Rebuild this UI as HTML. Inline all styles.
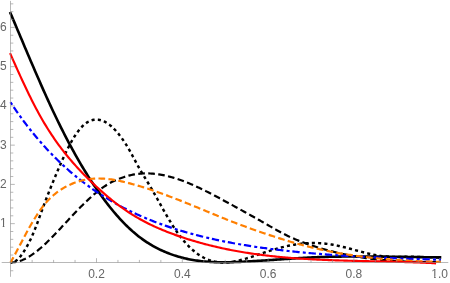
<!DOCTYPE html>
<html><head><meta charset="utf-8"><title>plot</title>
<style>
html,body{margin:0;padding:0;background:#fff;}
svg{display:block;}
text{font-family:"Liberation Sans",sans-serif;font-size:12px;fill:#666;}
</style></head><body>
<svg width="450" height="283" viewBox="0 0 450 283" style="will-change:transform">
<defs>
<clipPath id="cy1"><path d="M-8,-11 H1 V-1.7 H-2.35 V1 H-3.95 V-1.7 H-8 Z"/></clipPath>
<clipPath id="cx1"><path d="M-10,-11 H10 V3 H-1.4 V-1.7 H-4.0 V1 H-5.6 V-1.7 H-10 Z"/></clipPath>
</defs>
<rect width="450" height="283" fill="#fff"/>
<text transform="translate(96.50,277.6) scale(1,1.08)" text-anchor="middle">0.2</text>
<text transform="translate(182.30,277.6) scale(1,1.08)" text-anchor="middle">0.4</text>
<text transform="translate(268.10,277.6) scale(1,1.08)" text-anchor="middle">0.6</text>
<text transform="translate(353.90,277.6) scale(1,1.08)" text-anchor="middle">0.8</text>
<text transform="translate(439.70,277.6) scale(1,1.08)" text-anchor="middle" clip-path="url(#cx1)">1.0</text>
<text transform="translate(6.7,227.15) scale(1,1.08)" text-anchor="end" clip-path="url(#cy1)">1</text>
<text transform="translate(6.7,187.90) scale(1,1.08)" text-anchor="end">2</text>
<text transform="translate(6.7,148.65) scale(1,1.08)" text-anchor="end">3</text>
<text transform="translate(6.7,109.40) scale(1,1.08)" text-anchor="end">4</text>
<text transform="translate(6.7,70.15) scale(1,1.08)" text-anchor="end">5</text>
<text transform="translate(6.7,30.90) scale(1,1.08)" text-anchor="end">6</text>
<path d="M10.50,13.24 L11.94,16.62 L13.37,20.00 L14.81,23.38 L16.25,26.78 L17.68,30.17 L19.12,33.57 L20.56,36.96 L21.99,40.36 L23.43,43.76 L24.86,47.15 L26.30,50.53 L27.74,53.92 L29.17,57.29 L30.61,60.66 L32.05,64.01 L33.48,67.36 L34.92,70.69 L36.36,74.01 L37.79,77.31 L39.23,80.60 L40.67,83.87 L42.10,87.12 L43.54,90.35 L44.97,93.55 L46.41,96.74 L47.85,99.90 L49.28,103.03 L50.72,106.14 L52.16,109.22 L53.59,112.27 L55.03,115.29 L56.47,118.28 L57.90,121.23 L59.34,124.16 L60.78,127.06 L62.21,129.92 L63.65,132.75 L65.09,135.55 L66.52,138.33 L67.96,141.06 L69.39,143.77 L70.83,146.45 L72.27,149.09 L73.70,151.71 L75.14,154.29 L76.58,156.84 L78.01,159.36 L79.45,161.85 L80.89,164.30 L82.32,166.72 L83.76,169.12 L85.20,171.47 L86.63,173.80 L88.07,176.10 L89.51,178.36 L90.94,180.59 L92.38,182.79 L93.81,184.95 L95.25,187.09 L96.69,189.19 L98.12,191.26 L99.56,193.30 L101.00,195.31 L102.43,197.28 L103.87,199.23 L105.31,201.14 L106.74,203.02 L108.18,204.87 L109.62,206.69 L111.05,208.48 L112.49,210.23 L113.92,211.96 L115.36,213.65 L116.80,215.31 L118.23,216.94 L119.67,218.54 L121.11,220.10 L122.54,221.63 L123.98,223.12 L125.42,224.58 L126.85,226.00 L128.29,227.39 L129.73,228.75 L131.16,230.07 L132.60,231.35 L134.04,232.60 L135.47,233.81 L136.91,234.99 L138.34,236.14 L139.78,237.25 L141.22,238.32 L142.65,239.37 L144.09,240.38 L145.53,241.36 L146.96,242.30 L148.40,243.22 L149.84,244.11 L151.27,244.97 L152.71,245.80 L154.15,246.60 L155.58,247.38 L157.02,248.13 L158.45,248.86 L159.89,249.56 L161.33,250.24 L162.76,250.90 L164.20,251.54 L165.64,252.15 L167.07,252.74 L168.51,253.31 L169.95,253.86 L171.38,254.38 L172.82,254.89 L174.26,255.37 L175.69,255.84 L177.13,256.29 L178.57,256.71 L180.00,257.12 L181.44,257.51 L182.87,257.88 L184.31,258.23 L185.75,258.57 L187.18,258.89 L188.62,259.19 L190.06,259.47 L191.49,259.74 L192.93,259.99 L194.37,260.23 L195.80,260.45 L197.24,260.66 L198.68,260.85 L200.11,261.02 L201.55,261.19 L202.98,261.34 L204.42,261.48 L205.86,261.60 L207.29,261.71 L208.73,261.81 L210.17,261.90 L211.60,261.98 L213.04,262.05 L214.48,262.11 L215.91,262.16 L217.35,262.19 L218.79,262.22 L220.22,262.24 L221.66,262.26 L223.10,262.26 L224.53,262.26 L225.97,262.25 L227.40,262.23 L228.84,262.21 L230.28,262.18 L231.71,262.14 L233.15,262.10 L234.59,262.05 L236.02,262.00 L237.46,261.95 L238.90,261.89 L240.33,261.83 L241.77,261.77 L243.21,261.70 L244.64,261.63 L246.08,261.56 L247.52,261.48 L248.95,261.41 L250.39,261.33 L251.82,261.25 L253.26,261.16 L254.70,261.08 L256.13,260.99 L257.57,260.90 L259.01,260.81 L260.44,260.72 L261.88,260.62 L263.32,260.53 L264.75,260.43 L266.19,260.34 L267.63,260.24 L269.06,260.14 L270.50,260.04 L271.93,259.94 L273.37,259.84 L274.81,259.74 L276.24,259.64 L277.68,259.54 L279.12,259.44 L280.55,259.34 L281.99,259.24 L283.43,259.14 L284.86,259.04 L286.30,258.94 L287.74,258.84 L289.17,258.75 L290.61,258.65 L292.05,258.55 L293.48,258.46 L294.92,258.37 L296.35,258.28 L297.79,258.19 L299.23,258.10 L300.66,258.02 L302.10,257.93 L303.54,257.85 L304.97,257.77 L306.41,257.70 L307.85,257.62 L309.28,257.55 L310.72,257.48 L312.16,257.41 L313.59,257.35 L315.03,257.29 L316.46,257.23 L317.90,257.17 L319.34,257.12 L320.77,257.07 L322.21,257.02 L323.65,256.97 L325.08,256.93 L326.52,256.89 L327.96,256.85 L329.39,256.81 L330.83,256.77 L332.27,256.74 L333.70,256.71 L335.14,256.68 L336.58,256.65 L338.01,256.63 L339.45,256.61 L340.88,256.59 L342.32,256.57 L343.76,256.55 L345.19,256.53 L346.63,256.52 L348.07,256.51 L349.50,256.50 L350.94,256.49 L352.38,256.48 L353.81,256.47 L355.25,256.47 L356.69,256.46 L358.12,256.46 L359.56,256.46 L360.99,256.46 L362.43,256.47 L363.87,256.47 L365.30,256.47 L366.74,256.48 L368.18,256.49 L369.61,256.49 L371.05,256.50 L372.49,256.51 L373.92,256.52 L375.36,256.54 L376.80,256.55 L378.23,256.56 L379.67,256.58 L381.11,256.59 L382.54,256.61 L383.98,256.62 L385.41,256.64 L386.85,256.66 L388.29,256.67 L389.72,256.69 L391.16,256.71 L392.60,256.73 L394.03,256.75 L395.47,256.77 L396.91,256.79 L398.34,256.81 L399.78,256.83 L401.22,256.85 L402.65,256.88 L404.09,256.90 L405.53,256.92 L406.96,256.94 L408.40,256.96 L409.83,256.98 L411.27,257.00 L412.71,257.02 L414.14,257.04 L415.58,257.07 L417.02,257.09 L418.45,257.11 L419.89,257.12 L421.33,257.14 L422.76,257.16 L424.20,257.18 L425.64,257.20 L427.07,257.22 L428.51,257.23 L429.94,257.25 L431.38,257.26 L432.82,257.28 L434.25,257.29 L435.69,257.30 L437.13,257.32 L438.56,257.33 L440.00,257.34" fill="none" stroke="#000" stroke-width="2.6" stroke-linecap="square"/>
<path d="M10.50,262.38 L11.94,262.44 L13.38,262.16 L14.82,261.55 L16.26,260.62 L17.70,259.42 L19.14,257.94 L20.58,256.23 L22.02,254.29 L23.46,252.15 L24.90,249.85 L26.34,247.41 L27.78,244.83 L29.22,242.10 L30.66,239.19 L32.10,236.06 L33.54,232.70 L34.98,229.14 L36.42,225.42 L37.86,221.59 L39.30,217.67 L40.74,213.72 L42.18,209.76 L43.62,205.84 L45.06,201.99 L46.49,198.23 L47.93,194.55 L49.37,190.92 L50.81,187.33 L52.25,183.78 L53.69,180.25 L55.13,176.76 L56.57,173.30 L58.01,169.89 L59.45,166.54 L60.89,163.24 L62.33,160.01 L63.77,156.86 L65.21,153.80 L66.65,150.82 L68.09,147.94 L69.53,145.17 L70.97,142.51 L72.41,139.97 L73.85,137.56 L75.29,135.28 L76.73,133.14 L78.17,131.16 L79.61,129.33 L81.05,127.66 L82.49,126.16 L83.93,124.82 L85.37,123.64 L86.81,122.61 L88.25,121.74 L89.69,121.02 L91.13,120.45 L92.57,120.02 L94.01,119.73 L95.45,119.58 L96.89,119.56 L98.33,119.68 L99.77,119.93 L101.21,120.31 L102.65,120.81 L104.09,121.44 L105.53,122.18 L106.97,123.04 L108.41,124.02 L109.85,125.10 L111.29,126.29 L112.73,127.59 L114.17,129.00 L115.61,130.51 L117.05,132.13 L118.48,133.84 L119.92,135.66 L121.36,137.59 L122.80,139.61 L124.24,141.73 L125.68,143.96 L127.12,146.28 L128.56,148.69 L130.00,151.21 L131.44,153.81 L132.88,156.48 L134.32,159.19 L135.76,161.89 L137.20,164.58 L138.64,167.20 L140.08,169.75 L141.52,172.21 L142.96,174.61 L144.40,176.98 L145.84,179.32 L147.28,181.65 L148.72,184.01 L150.16,186.40 L151.60,188.85 L153.04,191.33 L154.48,193.86 L155.92,196.41 L157.36,198.99 L158.80,201.57 L160.24,204.17 L161.68,206.75 L163.12,209.33 L164.56,211.88 L166.00,214.41 L167.44,216.90 L168.88,219.35 L170.32,221.74 L171.76,224.07 L173.20,226.34 L174.64,228.53 L176.08,230.65 L177.52,232.71 L178.96,234.69 L180.40,236.60 L181.84,238.44 L183.28,240.20 L184.72,241.90 L186.16,243.52 L187.60,245.07 L189.04,246.55 L190.47,247.96 L191.91,249.29 L193.35,250.56 L194.79,251.75 L196.23,252.87 L197.67,253.93 L199.11,254.92 L200.55,255.84 L201.99,256.70 L203.43,257.49 L204.87,258.22 L206.31,258.89 L207.75,259.49 L209.19,260.04 L210.63,260.52 L212.07,260.95 L213.51,261.32 L214.95,261.63 L216.39,261.90 L217.83,262.11 L219.27,262.27 L220.71,262.39 L222.15,262.46 L223.59,262.48 L225.03,262.47 L226.47,262.41 L227.91,262.32 L229.35,262.19 L230.79,262.02 L232.23,261.82 L233.67,261.59 L235.11,261.33 L236.55,261.04 L237.99,260.73 L239.43,260.39 L240.87,260.03 L242.31,259.65 L243.75,259.26 L245.19,258.84 L246.63,258.41 L248.07,257.97 L249.51,257.51 L250.95,257.05 L252.39,256.57 L253.83,256.09 L255.27,255.61 L256.71,255.12 L258.15,254.64 L259.59,254.15 L261.03,253.67 L262.46,253.19 L263.90,252.71 L265.34,252.24 L266.78,251.78 L268.22,251.32 L269.66,250.86 L271.10,250.42 L272.54,249.98 L273.98,249.55 L275.42,249.13 L276.86,248.72 L278.30,248.32 L279.74,247.93 L281.18,247.54 L282.62,247.18 L284.06,246.82 L285.50,246.47 L286.94,246.14 L288.38,245.82 L289.82,245.52 L291.26,245.23 L292.70,244.96 L294.14,244.70 L295.58,244.46 L297.02,244.24 L298.46,244.03 L299.90,243.84 L301.34,243.67 L302.78,243.52 L304.22,243.39 L305.66,243.27 L307.10,243.18 L308.54,243.10 L309.98,243.05 L311.42,243.01 L312.86,242.99 L314.30,242.99 L315.74,243.01 L317.18,243.05 L318.62,243.11 L320.06,243.19 L321.50,243.28 L322.94,243.40 L324.38,243.54 L325.82,243.69 L327.26,243.87 L328.70,244.06 L330.14,244.27 L331.58,244.51 L333.02,244.76 L334.45,245.03 L335.89,245.31 L337.33,245.61 L338.77,245.93 L340.21,246.26 L341.65,246.59 L343.09,246.94 L344.53,247.30 L345.97,247.67 L347.41,248.04 L348.85,248.42 L350.29,248.80 L351.73,249.19 L353.17,249.58 L354.61,249.97 L356.05,250.36 L357.49,250.75 L358.93,251.14 L360.37,251.52 L361.81,251.91 L363.25,252.28 L364.69,252.65 L366.13,253.01 L367.57,253.36 L369.01,253.70 L370.45,254.03 L371.89,254.35 L373.33,254.65 L374.77,254.94 L376.21,255.21 L377.65,255.47 L379.09,255.71 L380.53,255.92 L381.97,256.12 L383.41,256.30 L384.85,256.45 L386.29,256.58 L387.73,256.69 L389.17,256.77 L390.61,256.83 L392.05,256.88 L393.49,256.91 L394.93,256.92 L396.37,256.93 L397.81,256.92 L399.25,256.91 L400.69,256.89 L402.13,256.87 L403.57,256.84 L405.01,256.82 L406.44,256.80 L407.88,256.79 L409.32,256.78 L410.76,256.78 L412.20,256.79 L413.64,256.81 L415.08,256.84 L416.52,256.87 L417.96,256.91 L419.40,256.95 L420.84,257.00 L422.28,257.05 L423.72,257.10 L425.16,257.15 L426.60,257.19 L428.04,257.24 L429.48,257.28 L430.92,257.32 L432.36,257.35 L433.80,257.38 L435.24,257.40 L436.68,257.41 L438.12,257.41 L439.56,257.40 L441.00,257.38" fill="none" stroke="#000" stroke-width="2.45" stroke-dasharray="3.1 3.18" stroke-dashoffset="1.55"/>
<path d="M10.50,262.31 L11.94,262.32 L13.38,262.24 L14.82,262.09 L16.26,261.85 L17.70,261.54 L19.14,261.15 L20.58,260.69 L22.02,260.16 L23.46,259.57 L24.90,258.91 L26.34,258.18 L27.78,257.40 L29.22,256.55 L30.66,255.65 L32.10,254.70 L33.54,253.69 L34.98,252.64 L36.42,251.54 L37.86,250.40 L39.30,249.21 L40.74,247.98 L42.18,246.72 L43.62,245.42 L45.06,244.08 L46.49,242.72 L47.93,241.33 L49.37,239.91 L50.81,238.47 L52.25,237.01 L53.69,235.52 L55.13,234.03 L56.57,232.51 L58.01,230.99 L59.45,229.45 L60.89,227.91 L62.33,226.36 L63.77,224.81 L65.21,223.26 L66.65,221.71 L68.09,220.17 L69.53,218.62 L70.97,217.09 L72.41,215.55 L73.85,214.03 L75.29,212.52 L76.73,211.02 L78.17,209.53 L79.61,208.06 L81.05,206.60 L82.49,205.16 L83.93,203.74 L85.37,202.34 L86.81,200.96 L88.25,199.61 L89.69,198.28 L91.13,196.98 L92.57,195.70 L94.01,194.45 L95.45,193.24 L96.89,192.05 L98.33,190.90 L99.77,189.79 L101.21,188.71 L102.65,187.67 L104.09,186.67 L105.53,185.71 L106.97,184.80 L108.41,183.93 L109.85,183.10 L111.29,182.32 L112.73,181.59 L114.17,180.89 L115.61,180.24 L117.05,179.62 L118.48,179.03 L119.92,178.47 L121.36,177.93 L122.80,177.43 L124.24,176.94 L125.68,176.49 L127.12,176.07 L128.56,175.67 L130.00,175.31 L131.44,174.98 L132.88,174.69 L134.32,174.42 L135.76,174.19 L137.20,173.99 L138.64,173.82 L140.08,173.68 L141.52,173.57 L142.96,173.49 L144.40,173.44 L145.84,173.41 L147.28,173.41 L148.72,173.44 L150.16,173.50 L151.60,173.58 L153.04,173.69 L154.48,173.83 L155.92,173.98 L157.36,174.17 L158.80,174.37 L160.24,174.60 L161.68,174.86 L163.12,175.13 L164.56,175.43 L166.00,175.75 L167.44,176.09 L168.88,176.45 L170.32,176.83 L171.76,177.23 L173.20,177.64 L174.64,178.08 L176.08,178.53 L177.52,179.01 L178.96,179.49 L180.40,180.00 L181.84,180.52 L183.28,181.06 L184.72,181.61 L186.16,182.18 L187.60,182.76 L189.04,183.35 L190.47,183.96 L191.91,184.58 L193.35,185.21 L194.79,185.85 L196.23,186.51 L197.67,187.17 L199.11,187.85 L200.55,188.53 L201.99,189.22 L203.43,189.93 L204.87,190.64 L206.31,191.36 L207.75,192.08 L209.19,192.82 L210.63,193.55 L212.07,194.30 L213.51,195.05 L214.95,195.80 L216.39,196.56 L217.83,197.32 L219.27,198.09 L220.71,198.86 L222.15,199.63 L223.59,200.41 L225.03,201.18 L226.47,201.96 L227.91,202.74 L229.35,203.52 L230.79,204.31 L232.23,205.10 L233.67,205.89 L235.11,206.68 L236.55,207.47 L237.99,208.26 L239.43,209.06 L240.87,209.85 L242.31,210.65 L243.75,211.45 L245.19,212.25 L246.63,213.05 L248.07,213.85 L249.51,214.65 L250.95,215.45 L252.39,216.26 L253.83,217.06 L255.27,217.87 L256.71,218.67 L258.15,219.49 L259.59,220.30 L261.03,221.11 L262.46,221.93 L263.90,222.75 L265.34,223.58 L266.78,224.41 L268.22,225.25 L269.66,226.08 L271.10,226.91 L272.54,227.75 L273.98,228.57 L275.42,229.39 L276.86,230.20 L278.30,231.00 L279.74,231.79 L281.18,232.56 L282.62,233.32 L284.06,234.06 L285.50,234.79 L286.94,235.50 L288.38,236.19 L289.82,236.87 L291.26,237.53 L292.70,238.17 L294.14,238.80 L295.58,239.42 L297.02,240.02 L298.46,240.61 L299.90,241.18 L301.34,241.74 L302.78,242.29 L304.22,242.83 L305.66,243.36 L307.10,243.88 L308.54,244.38 L309.98,244.88 L311.42,245.37 L312.86,245.85 L314.30,246.32 L315.74,246.78 L317.18,247.24 L318.62,247.68 L320.06,248.12 L321.50,248.55 L322.94,248.97 L324.38,249.38 L325.82,249.79 L327.26,250.18 L328.70,250.57 L330.14,250.95 L331.58,251.33 L333.02,251.69 L334.45,252.05 L335.89,252.40 L337.33,252.74 L338.77,253.07 L340.21,253.40 L341.65,253.72 L343.09,254.03 L344.53,254.34 L345.97,254.63 L347.41,254.93 L348.85,255.21 L350.29,255.49 L351.73,255.76 L353.17,256.02 L354.61,256.27 L356.05,256.52 L357.49,256.77 L358.93,257.00 L360.37,257.23 L361.81,257.46 L363.25,257.68 L364.69,257.89 L366.13,258.09 L367.57,258.29 L369.01,258.48 L370.45,258.67 L371.89,258.85 L373.33,259.03 L374.77,259.19 L376.21,259.36 L377.65,259.52 L379.09,259.67 L380.53,259.81 L381.97,259.96 L383.41,260.09 L384.85,260.22 L386.29,260.35 L387.73,260.47 L389.17,260.58 L390.61,260.69 L392.05,260.80 L393.49,260.90 L394.93,261.00 L396.37,261.09 L397.81,261.17 L399.25,261.25 L400.69,261.33 L402.13,261.40 L403.57,261.47 L405.01,261.54 L406.44,261.60 L407.88,261.65 L409.32,261.70 L410.76,261.75 L412.20,261.79 L413.64,261.83 L415.08,261.87 L416.52,261.90 L417.96,261.93 L419.40,261.95 L420.84,261.97 L422.28,261.99 L423.72,262.01 L425.16,262.02 L426.60,262.02 L428.04,262.03 L429.48,262.03 L430.92,262.03 L432.36,262.02 L433.80,262.01 L435.24,262.00 L436.68,261.99 L438.12,261.97 L439.56,261.95 L441.00,261.93" fill="none" stroke="#000" stroke-width="2.2" stroke-dasharray="6.6 3.4" stroke-dashoffset="0.6"/>
<path d="M10.50,102.26 L11.94,104.44 L13.38,106.59 L14.82,108.71 L16.26,110.80 L17.70,112.86 L19.14,114.89 L20.58,116.90 L22.02,118.88 L23.46,120.83 L24.90,122.75 L26.34,124.65 L27.78,126.53 L29.22,128.37 L30.66,130.20 L32.10,131.99 L33.54,133.77 L34.98,135.52 L36.42,137.24 L37.86,138.94 L39.30,140.62 L40.74,142.28 L42.18,143.91 L43.62,145.53 L45.06,147.11 L46.49,148.68 L47.93,150.23 L49.37,151.75 L50.81,153.26 L52.25,154.74 L53.69,156.21 L55.13,157.65 L56.57,159.08 L58.01,160.48 L59.45,161.87 L60.89,163.23 L62.33,164.58 L63.77,165.91 L65.21,167.23 L66.65,168.52 L68.09,169.80 L69.53,171.06 L70.97,172.30 L72.41,173.52 L73.85,174.73 L75.29,175.93 L76.73,177.10 L78.17,178.26 L79.61,179.41 L81.05,180.53 L82.49,181.65 L83.93,182.75 L85.37,183.83 L86.81,184.90 L88.25,185.95 L89.69,186.99 L91.13,188.02 L92.57,189.03 L94.01,190.03 L95.45,191.01 L96.89,191.98 L98.33,192.94 L99.77,193.88 L101.21,194.82 L102.65,195.73 L104.09,196.64 L105.53,197.54 L106.97,198.42 L108.41,199.29 L109.85,200.15 L111.29,200.99 L112.73,201.83 L114.17,202.65 L115.61,203.46 L117.05,204.27 L118.48,205.06 L119.92,205.84 L121.36,206.61 L122.80,207.36 L124.24,208.11 L125.68,208.85 L127.12,209.58 L128.56,210.30 L130.00,211.01 L131.44,211.71 L132.88,212.39 L134.32,213.07 L135.76,213.75 L137.20,214.41 L138.64,215.06 L140.08,215.70 L141.52,216.34 L142.96,216.97 L144.40,217.58 L145.84,218.19 L147.28,218.79 L148.72,219.39 L150.16,219.97 L151.60,220.55 L153.04,221.12 L154.48,221.68 L155.92,222.23 L157.36,222.78 L158.80,223.32 L160.24,223.85 L161.68,224.37 L163.12,224.89 L164.56,225.40 L166.00,225.90 L167.44,226.40 L168.88,226.89 L170.32,227.37 L171.76,227.85 L173.20,228.32 L174.64,228.78 L176.08,229.24 L177.52,229.69 L178.96,230.14 L180.40,230.58 L181.84,231.01 L183.28,231.43 L184.72,231.86 L186.16,232.27 L187.60,232.68 L189.04,233.09 L190.47,233.48 L191.91,233.88 L193.35,234.27 L194.79,234.65 L196.23,235.03 L197.67,235.40 L199.11,235.76 L200.55,236.13 L201.99,236.48 L203.43,236.84 L204.87,237.18 L206.31,237.53 L207.75,237.87 L209.19,238.20 L210.63,238.53 L212.07,238.85 L213.51,239.17 L214.95,239.49 L216.39,239.80 L217.83,240.11 L219.27,240.41 L220.71,240.71 L222.15,241.01 L223.59,241.30 L225.03,241.58 L226.47,241.87 L227.91,242.15 L229.35,242.42 L230.79,242.69 L232.23,242.96 L233.67,243.23 L235.11,243.49 L236.55,243.74 L237.99,244.00 L239.43,244.25 L240.87,244.49 L242.31,244.74 L243.75,244.98 L245.19,245.21 L246.63,245.45 L248.07,245.68 L249.51,245.91 L250.95,246.13 L252.39,246.35 L253.83,246.57 L255.27,246.79 L256.71,247.00 L258.15,247.21 L259.59,247.41 L261.03,247.62 L262.46,247.82 L263.90,248.02 L265.34,248.21 L266.78,248.41 L268.22,248.60 L269.66,248.78 L271.10,248.97 L272.54,249.15 L273.98,249.33 L275.42,249.51 L276.86,249.68 L278.30,249.86 L279.74,250.03 L281.18,250.20 L282.62,250.36 L284.06,250.53 L285.50,250.69 L286.94,250.85 L288.38,251.00 L289.82,251.16 L291.26,251.31 L292.70,251.46 L294.14,251.61 L295.58,251.76 L297.02,251.90 L298.46,252.05 L299.90,252.19 L301.34,252.33 L302.78,252.46 L304.22,252.60 L305.66,252.73 L307.10,252.86 L308.54,252.99 L309.98,253.12 L311.42,253.25 L312.86,253.37 L314.30,253.49 L315.74,253.61 L317.18,253.73 L318.62,253.85 L320.06,253.97 L321.50,254.08 L322.94,254.20 L324.38,254.31 L325.82,254.42 L327.26,254.53 L328.70,254.63 L330.14,254.74 L331.58,254.84 L333.02,254.95 L334.45,255.05 L335.89,255.15 L337.33,255.25 L338.77,255.34 L340.21,255.44 L341.65,255.53 L343.09,255.63 L344.53,255.72 L345.97,255.81 L347.41,255.90 L348.85,255.99 L350.29,256.08 L351.73,256.16 L353.17,256.25 L354.61,256.33 L356.05,256.41 L357.49,256.49 L358.93,256.57 L360.37,256.65 L361.81,256.73 L363.25,256.81 L364.69,256.88 L366.13,256.96 L367.57,257.03 L369.01,257.11 L370.45,257.18 L371.89,257.25 L373.33,257.32 L374.77,257.39 L376.21,257.46 L377.65,257.52 L379.09,257.59 L380.53,257.66 L381.97,257.72 L383.41,257.78 L384.85,257.85 L386.29,257.91 L387.73,257.97 L389.17,258.03 L390.61,258.09 L392.05,258.15 L393.49,258.21 L394.93,258.26 L396.37,258.32 L397.81,258.37 L399.25,258.43 L400.69,258.48 L402.13,258.54 L403.57,258.59 L405.01,258.64 L406.44,258.69 L407.88,258.74 L409.32,258.79 L410.76,258.84 L412.20,258.89 L413.64,258.94 L415.08,258.98 L416.52,259.03 L417.96,259.08 L419.40,259.12 L420.84,259.17 L422.28,259.21 L423.72,259.25 L425.16,259.30 L426.60,259.34 L428.04,259.38 L429.48,259.42 L430.92,259.46 L432.36,259.50 L433.80,259.54 L435.24,259.58 L436.68,259.62 L438.12,259.66 L439.56,259.69 L441.00,259.73" fill="none" stroke="#00f" stroke-width="2.2" stroke-dasharray="3 2.8 7.3 3.2"/>
<path d="M10.50,262.62 L11.94,260.03 L13.38,257.40 L14.82,254.74 L16.26,252.04 L17.70,249.33 L19.14,246.60 L20.58,243.87 L22.02,241.14 L23.46,238.42 L24.90,235.72 L26.34,233.05 L27.78,230.42 L29.22,227.83 L30.66,225.29 L32.10,222.80 L33.54,220.39 L34.98,218.04 L36.42,215.76 L37.86,213.56 L39.30,211.44 L40.74,209.40 L42.18,207.44 L43.62,205.58 L45.06,203.81 L46.49,202.13 L47.93,200.54 L49.37,199.03 L50.81,197.61 L52.25,196.27 L53.69,195.00 L55.13,193.80 L56.57,192.66 L58.01,191.60 L59.45,190.59 L60.89,189.63 L62.33,188.73 L63.77,187.88 L65.21,187.07 L66.65,186.30 L68.09,185.58 L69.53,184.89 L70.97,184.24 L72.41,183.62 L73.85,183.04 L75.29,182.50 L76.73,182.00 L78.17,181.53 L79.61,181.10 L81.05,180.70 L82.49,180.34 L83.93,180.01 L85.37,179.72 L86.81,179.45 L88.25,179.23 L89.69,179.03 L91.13,178.87 L92.57,178.73 L94.01,178.63 L95.45,178.56 L96.89,178.51 L98.33,178.50 L99.77,178.51 L101.21,178.54 L102.65,178.61 L104.09,178.69 L105.53,178.80 L106.97,178.94 L108.41,179.09 L109.85,179.27 L111.29,179.46 L112.73,179.68 L114.17,179.91 L115.61,180.16 L117.05,180.43 L118.48,180.71 L119.92,181.01 L121.36,181.32 L122.80,181.64 L124.24,181.98 L125.68,182.33 L127.12,182.69 L128.56,183.06 L130.00,183.43 L131.44,183.82 L132.88,184.21 L134.32,184.61 L135.76,185.02 L137.20,185.44 L138.64,185.86 L140.08,186.29 L141.52,186.73 L142.96,187.17 L144.40,187.63 L145.84,188.08 L147.28,188.55 L148.72,189.02 L150.16,189.49 L151.60,189.97 L153.04,190.46 L154.48,190.95 L155.92,191.45 L157.36,191.96 L158.80,192.47 L160.24,192.98 L161.68,193.50 L163.12,194.02 L164.56,194.55 L166.00,195.08 L167.44,195.62 L168.88,196.16 L170.32,196.70 L171.76,197.25 L173.20,197.81 L174.64,198.36 L176.08,198.92 L177.52,199.48 L178.96,200.05 L180.40,200.62 L181.84,201.19 L183.28,201.76 L184.72,202.34 L186.16,202.91 L187.60,203.49 L189.04,204.08 L190.47,204.66 L191.91,205.25 L193.35,205.83 L194.79,206.42 L196.23,207.01 L197.67,207.60 L199.11,208.20 L200.55,208.79 L201.99,209.38 L203.43,209.98 L204.87,210.57 L206.31,211.17 L207.75,211.76 L209.19,212.36 L210.63,212.95 L212.07,213.55 L213.51,214.14 L214.95,214.73 L216.39,215.32 L217.83,215.91 L219.27,216.50 L220.71,217.09 L222.15,217.67 L223.59,218.26 L225.03,218.84 L226.47,219.42 L227.91,219.99 L229.35,220.56 L230.79,221.13 L232.23,221.70 L233.67,222.26 L235.11,222.81 L236.55,223.37 L237.99,223.92 L239.43,224.46 L240.87,225.00 L242.31,225.53 L243.75,226.06 L245.19,226.59 L246.63,227.12 L248.07,227.64 L249.51,228.15 L250.95,228.67 L252.39,229.18 L253.83,229.68 L255.27,230.19 L256.71,230.69 L258.15,231.19 L259.59,231.69 L261.03,232.19 L262.46,232.68 L263.90,233.17 L265.34,233.66 L266.78,234.15 L268.22,234.64 L269.66,235.12 L271.10,235.60 L272.54,236.08 L273.98,236.55 L275.42,237.02 L276.86,237.49 L278.30,237.95 L279.74,238.41 L281.18,238.87 L282.62,239.32 L284.06,239.77 L285.50,240.22 L286.94,240.66 L288.38,241.09 L289.82,241.52 L291.26,241.95 L292.70,242.37 L294.14,242.79 L295.58,243.20 L297.02,243.61 L298.46,244.01 L299.90,244.41 L301.34,244.80 L302.78,245.18 L304.22,245.56 L305.66,245.93 L307.10,246.30 L308.54,246.66 L309.98,247.02 L311.42,247.37 L312.86,247.72 L314.30,248.06 L315.74,248.39 L317.18,248.72 L318.62,249.05 L320.06,249.36 L321.50,249.68 L322.94,249.99 L324.38,250.29 L325.82,250.59 L327.26,250.89 L328.70,251.18 L330.14,251.46 L331.58,251.74 L333.02,252.01 L334.45,252.28 L335.89,252.55 L337.33,252.81 L338.77,253.07 L340.21,253.32 L341.65,253.56 L343.09,253.81 L344.53,254.04 L345.97,254.28 L347.41,254.51 L348.85,254.73 L350.29,254.95 L351.73,255.17 L353.17,255.38 L354.61,255.59 L356.05,255.79 L357.49,255.99 L358.93,256.18 L360.37,256.37 L361.81,256.56 L363.25,256.74 L364.69,256.92 L366.13,257.10 L367.57,257.27 L369.01,257.44 L370.45,257.60 L371.89,257.76 L373.33,257.92 L374.77,258.07 L376.21,258.22 L377.65,258.37 L379.09,258.51 L380.53,258.65 L381.97,258.78 L383.41,258.91 L384.85,259.04 L386.29,259.17 L387.73,259.29 L389.17,259.41 L390.61,259.52 L392.05,259.64 L393.49,259.75 L394.93,259.85 L396.37,259.96 L397.81,260.06 L399.25,260.15 L400.69,260.25 L402.13,260.34 L403.57,260.43 L405.01,260.51 L406.44,260.60 L407.88,260.68 L409.32,260.76 L410.76,260.83 L412.20,260.90 L413.64,260.97 L415.08,261.04 L416.52,261.11 L417.96,261.17 L419.40,261.23 L420.84,261.29 L422.28,261.34 L423.72,261.40 L425.16,261.45 L426.60,261.50 L428.04,261.54 L429.48,261.59 L430.92,261.63 L432.36,261.67 L433.80,261.71 L435.24,261.75 L436.68,261.78 L438.12,261.81 L439.56,261.84 L441.00,261.87" fill="none" stroke="#ff7f00" stroke-width="2.2" stroke-dasharray="6.7 3.3" stroke-dashoffset="0.6"/>
<path d="M10.50,54.15 L11.92,57.38 L13.34,60.60 L14.76,63.80 L16.18,66.98 L17.60,70.14 L19.02,73.29 L20.44,76.40 L21.86,79.49 L23.28,82.55 L24.70,85.58 L26.12,88.58 L27.54,91.54 L28.96,94.47 L30.38,97.35 L31.80,100.19 L33.22,102.99 L34.64,105.75 L36.06,108.45 L37.47,111.10 L38.89,113.70 L40.31,116.25 L41.73,118.74 L43.15,121.18 L44.57,123.58 L45.99,125.92 L47.41,128.22 L48.83,130.47 L50.25,132.68 L51.67,134.84 L53.09,136.95 L54.51,139.03 L55.93,141.06 L57.35,143.06 L58.77,145.02 L60.19,146.94 L61.61,148.82 L63.03,150.66 L64.45,152.48 L65.87,154.26 L67.29,156.00 L68.71,157.72 L70.13,159.41 L71.55,161.07 L72.97,162.70 L74.39,164.30 L75.81,165.88 L77.23,167.44 L78.65,168.97 L80.07,170.48 L81.49,171.97 L82.91,173.44 L84.33,174.89 L85.75,176.32 L87.17,177.74 L88.59,179.14 L90.01,180.53 L91.42,181.91 L92.84,183.27 L94.26,184.61 L95.68,185.95 L97.10,187.27 L98.52,188.57 L99.94,189.86 L101.36,191.14 L102.78,192.40 L104.20,193.64 L105.62,194.87 L107.04,196.08 L108.46,197.27 L109.88,198.45 L111.30,199.61 L112.72,200.75 L114.14,201.88 L115.56,202.99 L116.98,204.07 L118.40,205.14 L119.82,206.19 L121.24,207.22 L122.66,208.23 L124.08,209.22 L125.50,210.20 L126.92,211.15 L128.34,212.09 L129.76,213.01 L131.18,213.91 L132.60,214.79 L134.02,215.66 L135.44,216.51 L136.86,217.35 L138.28,218.17 L139.70,218.97 L141.12,219.76 L142.54,220.53 L143.95,221.29 L145.37,222.03 L146.79,222.76 L148.21,223.48 L149.63,224.18 L151.05,224.87 L152.47,225.55 L153.89,226.21 L155.31,226.87 L156.73,227.51 L158.15,228.13 L159.57,228.75 L160.99,229.36 L162.41,229.95 L163.83,230.54 L165.25,231.11 L166.67,231.67 L168.09,232.23 L169.51,232.78 L170.93,233.31 L172.35,233.84 L173.77,234.36 L175.19,234.87 L176.61,235.38 L178.03,235.88 L179.45,236.37 L180.87,236.85 L182.29,237.32 L183.71,237.79 L185.13,238.26 L186.55,238.72 L187.97,239.17 L189.39,239.61 L190.81,240.05 L192.23,240.48 L193.65,240.90 L195.07,241.32 L196.48,241.74 L197.90,242.14 L199.32,242.54 L200.74,242.94 L202.16,243.33 L203.58,243.71 L205.00,244.09 L206.42,244.46 L207.84,244.83 L209.26,245.19 L210.68,245.54 L212.10,245.89 L213.52,246.23 L214.94,246.57 L216.36,246.90 L217.78,247.23 L219.20,247.55 L220.62,247.87 L222.04,248.18 L223.46,248.48 L224.88,248.78 L226.30,249.08 L227.72,249.37 L229.14,249.65 L230.56,249.93 L231.98,250.21 L233.40,250.48 L234.82,250.74 L236.24,251.01 L237.66,251.26 L239.08,251.51 L240.50,251.76 L241.92,252.00 L243.34,252.24 L244.76,252.47 L246.18,252.70 L247.60,252.93 L249.02,253.15 L250.43,253.36 L251.85,253.57 L253.27,253.78 L254.69,253.99 L256.11,254.18 L257.53,254.38 L258.95,254.57 L260.37,254.76 L261.79,254.94 L263.21,255.12 L264.63,255.30 L266.05,255.47 L267.47,255.64 L268.89,255.80 L270.31,255.96 L271.73,256.12 L273.15,256.28 L274.57,256.43 L275.99,256.57 L277.41,256.72 L278.83,256.86 L280.25,256.99 L281.67,257.13 L283.09,257.26 L284.51,257.39 L285.93,257.51 L287.35,257.63 L288.77,257.75 L290.19,257.87 L291.61,257.98 L293.03,258.09 L294.45,258.20 L295.87,258.30 L297.29,258.41 L298.71,258.50 L300.13,258.60 L301.55,258.70 L302.96,258.79 L304.38,258.88 L305.80,258.96 L307.22,259.05 L308.64,259.13 L310.06,259.21 L311.48,259.29 L312.90,259.36 L314.32,259.44 L315.74,259.51 L317.16,259.58 L318.58,259.65 L320.00,259.71 L321.42,259.78 L322.84,259.84 L324.26,259.90 L325.68,259.96 L327.10,260.02 L328.52,260.07 L329.94,260.13 L331.36,260.18 L332.78,260.23 L334.20,260.28 L335.62,260.33 L337.04,260.38 L338.46,260.42 L339.88,260.47 L341.30,260.51 L342.72,260.55 L344.14,260.59 L345.56,260.63 L346.98,260.67 L348.40,260.71 L349.82,260.75 L351.24,260.79 L352.66,260.82 L354.08,260.86 L355.49,260.89 L356.91,260.92 L358.33,260.96 L359.75,260.99 L361.17,261.02 L362.59,261.06 L364.01,261.09 L365.43,261.12 L366.85,261.15 L368.27,261.18 L369.69,261.21 L371.11,261.24 L372.53,261.27 L373.95,261.30 L375.37,261.33 L376.79,261.36 L378.21,261.39 L379.63,261.42 L381.05,261.46 L382.47,261.49 L383.89,261.52 L385.31,261.55 L386.73,261.58 L388.15,261.61 L389.57,261.65 L390.99,261.68 L392.41,261.72 L393.83,261.75 L395.25,261.79 L396.67,261.82 L398.09,261.86 L399.51,261.90 L400.93,261.94 L402.35,261.98 L403.77,262.02 L405.19,262.06 L406.61,262.10 L408.03,262.15 L409.44,262.19 L410.86,262.24 L412.28,262.29 L413.70,262.34 L415.12,262.39 L416.54,262.44 L417.96,262.49 L419.38,262.55 L420.80,262.61 L422.22,262.66 L423.64,262.72 L425.06,262.79 L426.48,262.85 L427.90,262.92 L429.32,262.98 L430.74,263.05 L432.16,263.12 L433.58,263.20 L435.00,263.27" fill="none" stroke="#f00" stroke-width="2.15" stroke-linecap="square"/>
<line x1="1.7" y1="262.5" x2="448.3" y2="262.5" stroke="#8c8c8c" stroke-width="0.62"/>
<line x1="10.5" y1="0.9" x2="10.5" y2="276.8" stroke="#8c8c8c" stroke-width="0.62"/>
<line x1="32.15" y1="262.5" x2="32.15" y2="259.9" stroke="#8c8c8c" stroke-width="0.62"/>
<line x1="53.60" y1="262.5" x2="53.60" y2="259.9" stroke="#8c8c8c" stroke-width="0.62"/>
<line x1="75.05" y1="262.5" x2="75.05" y2="259.9" stroke="#8c8c8c" stroke-width="0.62"/>
<line x1="96.50" y1="262.5" x2="96.50" y2="258.2" stroke="#8c8c8c" stroke-width="0.62"/>
<line x1="117.95" y1="262.5" x2="117.95" y2="259.9" stroke="#8c8c8c" stroke-width="0.62"/>
<line x1="139.40" y1="262.5" x2="139.40" y2="259.9" stroke="#8c8c8c" stroke-width="0.62"/>
<line x1="160.85" y1="262.5" x2="160.85" y2="259.9" stroke="#8c8c8c" stroke-width="0.62"/>
<line x1="182.30" y1="262.5" x2="182.30" y2="258.2" stroke="#8c8c8c" stroke-width="0.62"/>
<line x1="203.75" y1="262.5" x2="203.75" y2="259.9" stroke="#8c8c8c" stroke-width="0.62"/>
<line x1="225.20" y1="262.5" x2="225.20" y2="259.9" stroke="#8c8c8c" stroke-width="0.62"/>
<line x1="246.65" y1="262.5" x2="246.65" y2="259.9" stroke="#8c8c8c" stroke-width="0.62"/>
<line x1="268.10" y1="262.5" x2="268.10" y2="258.2" stroke="#8c8c8c" stroke-width="0.62"/>
<line x1="289.55" y1="262.5" x2="289.55" y2="259.9" stroke="#8c8c8c" stroke-width="0.62"/>
<line x1="311.00" y1="262.5" x2="311.00" y2="259.9" stroke="#8c8c8c" stroke-width="0.62"/>
<line x1="332.45" y1="262.5" x2="332.45" y2="259.9" stroke="#8c8c8c" stroke-width="0.62"/>
<line x1="353.90" y1="262.5" x2="353.90" y2="258.2" stroke="#8c8c8c" stroke-width="0.62"/>
<line x1="375.35" y1="262.5" x2="375.35" y2="259.9" stroke="#8c8c8c" stroke-width="0.62"/>
<line x1="396.80" y1="262.5" x2="396.80" y2="259.9" stroke="#8c8c8c" stroke-width="0.62"/>
<line x1="418.25" y1="262.5" x2="418.25" y2="259.9" stroke="#8c8c8c" stroke-width="0.62"/>
<line x1="439.70" y1="262.5" x2="439.70" y2="258.2" stroke="#8c8c8c" stroke-width="0.62"/>
<line x1="10.5" y1="270.75" x2="13.3" y2="270.75" stroke="#8c8c8c" stroke-width="0.62"/>
<line x1="10.5" y1="255.05" x2="13.3" y2="255.05" stroke="#8c8c8c" stroke-width="0.62"/>
<line x1="10.5" y1="247.20" x2="13.3" y2="247.20" stroke="#8c8c8c" stroke-width="0.62"/>
<line x1="10.5" y1="239.35" x2="13.3" y2="239.35" stroke="#8c8c8c" stroke-width="0.62"/>
<line x1="10.5" y1="231.50" x2="13.3" y2="231.50" stroke="#8c8c8c" stroke-width="0.62"/>
<line x1="10.5" y1="223.65" x2="14.8" y2="223.65" stroke="#8c8c8c" stroke-width="0.62"/>
<line x1="10.5" y1="215.80" x2="13.3" y2="215.80" stroke="#8c8c8c" stroke-width="0.62"/>
<line x1="10.5" y1="207.95" x2="13.3" y2="207.95" stroke="#8c8c8c" stroke-width="0.62"/>
<line x1="10.5" y1="200.10" x2="13.3" y2="200.10" stroke="#8c8c8c" stroke-width="0.62"/>
<line x1="10.5" y1="192.25" x2="13.3" y2="192.25" stroke="#8c8c8c" stroke-width="0.62"/>
<line x1="10.5" y1="184.40" x2="14.8" y2="184.40" stroke="#8c8c8c" stroke-width="0.62"/>
<line x1="10.5" y1="176.55" x2="13.3" y2="176.55" stroke="#8c8c8c" stroke-width="0.62"/>
<line x1="10.5" y1="168.70" x2="13.3" y2="168.70" stroke="#8c8c8c" stroke-width="0.62"/>
<line x1="10.5" y1="160.85" x2="13.3" y2="160.85" stroke="#8c8c8c" stroke-width="0.62"/>
<line x1="10.5" y1="153.00" x2="13.3" y2="153.00" stroke="#8c8c8c" stroke-width="0.62"/>
<line x1="10.5" y1="145.15" x2="14.8" y2="145.15" stroke="#8c8c8c" stroke-width="0.62"/>
<line x1="10.5" y1="137.30" x2="13.3" y2="137.30" stroke="#8c8c8c" stroke-width="0.62"/>
<line x1="10.5" y1="129.45" x2="13.3" y2="129.45" stroke="#8c8c8c" stroke-width="0.62"/>
<line x1="10.5" y1="121.60" x2="13.3" y2="121.60" stroke="#8c8c8c" stroke-width="0.62"/>
<line x1="10.5" y1="113.75" x2="13.3" y2="113.75" stroke="#8c8c8c" stroke-width="0.62"/>
<line x1="10.5" y1="105.90" x2="14.8" y2="105.90" stroke="#8c8c8c" stroke-width="0.62"/>
<line x1="10.5" y1="98.05" x2="13.3" y2="98.05" stroke="#8c8c8c" stroke-width="0.62"/>
<line x1="10.5" y1="90.20" x2="13.3" y2="90.20" stroke="#8c8c8c" stroke-width="0.62"/>
<line x1="10.5" y1="82.35" x2="13.3" y2="82.35" stroke="#8c8c8c" stroke-width="0.62"/>
<line x1="10.5" y1="74.50" x2="13.3" y2="74.50" stroke="#8c8c8c" stroke-width="0.62"/>
<line x1="10.5" y1="66.65" x2="14.8" y2="66.65" stroke="#8c8c8c" stroke-width="0.62"/>
<line x1="10.5" y1="58.80" x2="13.3" y2="58.80" stroke="#8c8c8c" stroke-width="0.62"/>
<line x1="10.5" y1="50.95" x2="13.3" y2="50.95" stroke="#8c8c8c" stroke-width="0.62"/>
<line x1="10.5" y1="43.10" x2="13.3" y2="43.10" stroke="#8c8c8c" stroke-width="0.62"/>
<line x1="10.5" y1="35.25" x2="13.3" y2="35.25" stroke="#8c8c8c" stroke-width="0.62"/>
<line x1="10.5" y1="27.40" x2="14.8" y2="27.40" stroke="#8c8c8c" stroke-width="0.62"/>
<line x1="10.5" y1="19.55" x2="13.3" y2="19.55" stroke="#8c8c8c" stroke-width="0.62"/>
<line x1="10.5" y1="11.70" x2="13.3" y2="11.70" stroke="#8c8c8c" stroke-width="0.62"/>
<line x1="10.5" y1="3.85" x2="13.3" y2="3.85" stroke="#8c8c8c" stroke-width="0.62"/>
</svg>
</body></html>
